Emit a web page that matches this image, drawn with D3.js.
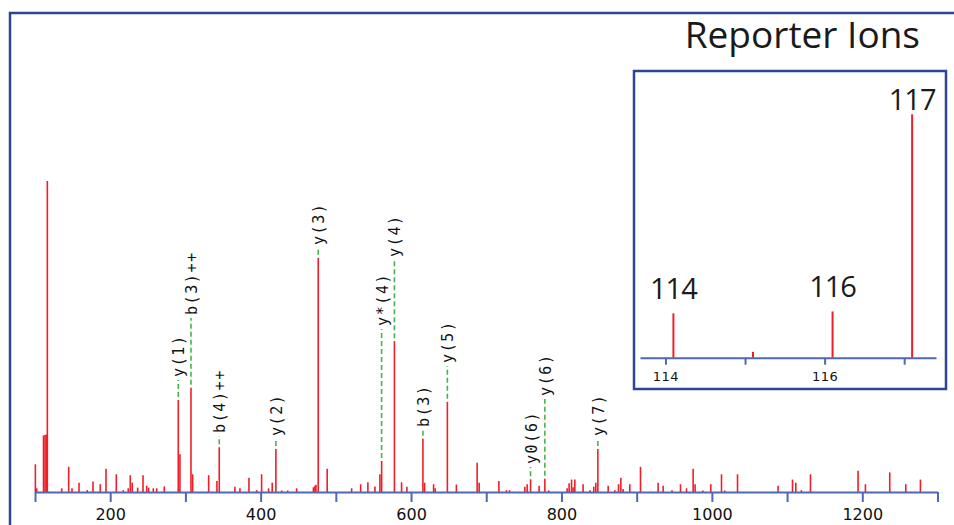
<!DOCTYPE html>
<html>
<head>
<meta charset="utf-8">
<script src="https://cdn.jsdelivr.net/npm/d3@7"></script>
<style>
  body { margin: 0; background: #fff; }
  svg { display: block; }
</style>
</head>
<body>
<div id="chart"></div>
<script>
// labelled fragment ions (m/z, relative intensity, height where the label starts)
const ionNames = ["y(1)", "b(3)++", "b(4)++", "y(2)", "y(3)", "y*(4)", "y(4)", "b(3)", "y(5)", "y0(6)", "y(6)", "y(7)"];
const ionMz = [290.5, 307.4, 345.0, 420.3, 476.6, 560.9, 577.9, 615.8, 648.3, 758.9, 777.9, 848.4];
const ionIntensity = [29.6, 33.5, 14.4, 13.8, 75.3, 10.0, 48.5, 17.1, 29.0, 4.1, 4.3, 13.8];
const ionLabelLevel = [37.0, 56.9, 19.0, 18.0, 79.4, 53.4, 75.6, 20.9, 41.5, 9.0, 30.9, 18.0];

// all other peaks of the spectrum
const peakMz = [100.5, 102.3, 111.3, 113.3, 115.0, 116.4, 135.5, 144.8, 149.2, 158.5, 169.5, 177.1, 186.8, 194.4,
    208.1, 217.4, 224, 226.7, 229.3, 236.5, 243.6, 248.5, 251.1, 257.3, 261.8, 271.9, 292.7, 309.6, 330.9, 341.9,
    365.8, 372.5, 384.5, 394.7, 401.3, 410.6, 415.4, 428, 436, 447.9, 470.2, 472.2, 473.5, 488.5, 521, 533, 542.6,
    552, 558.6, 587.4, 594.5, 618, 630, 632.1, 660.3, 687.9, 690.6, 716.8, 727, 731, 751.3, 754.4, 770.3, 783,
    807.6, 810.2, 813.4, 815.5, 817.8, 828.8, 838, 843, 845.7, 862.1, 871, 875.9, 879, 882, 890.9, 905.1, 928.5,
    935.2, 947, 958.3, 966.3, 975.1, 977.7, 988, 998.6, 1012.8, 1017, 1034.1, 1088, 1107.2, 1111.6, 1119.1, 1131.1,
    1194.4, 1204.2, 1236.5, 1257.8, 1277.3];
const peakIntensity = [8.9, 1.2, 18.2, 18.3, 18.5, 100, 1.2, 8.1, 1.2, 3.0, 0.6, 3.4, 2.5, 7.5,
    5.7, 0.6, 1.2, 5.4, 3.0, 1.4, 5.4, 2.0, 1.4, 1.2, 1.2, 1.8, 12.1, 5.7, 5.4, 3.5,
    1.7, 1.2, 4.6, 0.6, 5.7, 1.2, 3.0, 0.5, 0.5, 1.2, 1.5, 2.0, 2.3, 7.5, 1.2, 2.5, 3.1,
    1.8, 5.7, 3.1, 1.7, 3.0, 2.5, 1.2, 2.4, 9.4, 3.0, 3.5, 0.6, 0.6, 1.7, 2.5, 2.0, 0.5,
    1.2, 2.8, 4.0, 1.5, 4.0, 2.5, 0.6, 1.7, 3.0, 2.0, 0.6, 2.5, 4.6, 1.0, 2.5, 8.1, 3.0,
    2.0, 0.6, 2.5, 1.2, 7.5, 2.5, 0.5, 2.5, 5.7, 0.5, 5.7, 2.0, 4.0, 3.0, 0.6, 5.7,
    6.8, 2.5, 6.3, 2.5, 4.0];

// reporter ion inset
const reporterMz = [114.1, 115.1, 116.1, 117.1];
const reporterIntensity = [18.2, 2.4, 19.0, 100];
const reporterLabels = ["114", "", "116", "117"];

const mainTicks = d3.range(100, 1301, 100);
const insetTicks = [114, 115, 116, 117];

const width = 954, height = 525;
const red = "#ee1f26", blue = "#5068b4", navy = "#2c4696";

const svg = d3.select("#chart").append("svg")
    .attr("width", width)
    .attr("height", height);

// outer frame (left and top edges only)
svg.append("path")
    .attr("d", "M10,525V13H954")
    .attr("fill", "none")
    .attr("stroke", navy)
    .attr("stroke-width", 2.5);

// ---- main spectrum
const x = d3.scaleLinear().domain([100, 1300]).range([35, 937.5]);
const y = d3.scaleLinear().domain([0, 100]).range([492, 181]);

const peaks = peakMz.map((m, i) => ({mz: m, v: peakIntensity[i]}));
const ions = ionMz.map((m, i) => ({mz: m, v: ionIntensity[i], name: ionNames[i], level: ionLabelLevel[i]}));

svg.append("g").selectAll("line")
    .data(peaks.concat(ions))
    .enter()
    .append("line")
    .attr("x1", d => x(d.mz))
    .attr("x2", d => x(d.mz))
    .attr("y1", y(0))
    .attr("y2", d => y(d.v))
    .attr("stroke", red)
    .attr("stroke-width", 1.6);

// dashed leaders and rotated ion labels
const lab = svg.append("g").selectAll("g")
    .data(ions)
    .enter()
    .append("g");

lab.append("line")
    .attr("x1", d => x(d.mz))
    .attr("x2", d => x(d.mz))
    .attr("y1", d => y(d.v) - 3)
    .attr("y2", d => y(d.level) + 3)
    .attr("stroke", "#45b64c")
    .attr("stroke-width", 1.6)
    .attr("stroke-dasharray", "5,3");

lab.append("text")
    .attr("transform", d => `translate(${x(d.mz) + 1},${y(d.level)}) rotate(-90)`)
    .attr("text-anchor", "start")
    .attr("dominant-baseline", "central")
    .style("font-family", "'DejaVu Sans Mono', monospace")
    .style("font-size", "15px")
    .style("letter-spacing", "1.6px")
    .style("fill", "#111")
    .text(d => d.name);

const xAxis = svg.append("g")
    .attr("transform", `translate(0,${y(0)})`)
    .call(d3.axisBottom(x)
        .tickValues(mainTicks)
        .tickSize(10)
        .tickSizeOuter(0)
        .tickPadding(7)
        .tickFormat(d => d % 200 === 0 ? d : ""));
xAxis.select(".domain").attr("stroke", blue).attr("stroke-width", 2);
xAxis.selectAll(".tick line").attr("stroke", blue).attr("stroke-width", 2);
xAxis.selectAll(".tick text")
    .style("font-family", "'DejaVu Sans', sans-serif")
    .style("font-size", "16px")
    .style("fill", "#111");

// title
svg.append("text")
    .attr("x", 920)
    .attr("y", 48)
    .attr("text-anchor", "end")
    .style("font-family", "'Open Sans', sans-serif")
    .style("font-size", "37px")
    .style("fill", "#1a1a1a")
    .text("Reporter Ions");

// ---- inset
svg.append("rect")
    .attr("x", 634)
    .attr("y", 71)
    .attr("width", 312)
    .attr("height", 318)
    .attr("fill", "#fff")
    .attr("stroke", navy)
    .attr("stroke-width", 2.5);

const x2 = d3.scaleLinear().domain([113.68, 117.4]).range([640, 936]);
const y2 = d3.scaleLinear().domain([0, 100]).range([357.7, 114.3]);

const reporters = reporterMz.map((m, i) => ({mz: m, v: reporterIntensity[i], name: reporterLabels[i]}));

svg.append("g").selectAll("line")
    .data(reporters)
    .enter()
    .append("line")
    .attr("x1", d => x2(d.mz))
    .attr("x2", d => x2(d.mz))
    .attr("y1", y2(0))
    .attr("y2", d => y2(d.v))
    .attr("stroke", red)
    .attr("stroke-width", 2);

svg.append("g").selectAll("text")
    .data(reporters.filter(d => d.name))
    .enter()
    .append("text")
    .attr("x", d => x2(d.mz))
    .attr("y", d => Math.max(y2(d.v) - 14, 110))
    .attr("text-anchor", "middle")
    .style("font-family", "'Open Sans', sans-serif")
    .style("font-size", "29px")
    .style("letter-spacing", "-1px")
    .style("fill", "#1a1a1a")
    .text(d => d.name);

const insetAxis = svg.append("g")
    .attr("transform", `translate(0,${y2(0)})`)
    .call(d3.axisBottom(x2)
        .tickValues(insetTicks)
        .tickSize(7)
        .tickSizeOuter(0)
        .tickPadding(7)
        .tickFormat(d => d % 2 === 0 ? d : ""));
insetAxis.select(".domain").attr("stroke", blue).attr("stroke-width", 2);
insetAxis.selectAll(".tick line").attr("stroke", blue).attr("stroke-width", 2);
insetAxis.selectAll(".tick text")
    .style("font-family", "'DejaVu Sans', sans-serif")
    .style("font-size", "13px")
    .style("letter-spacing", "0.5px")
    .style("fill", "#111");
</script>
</body>
</html>
